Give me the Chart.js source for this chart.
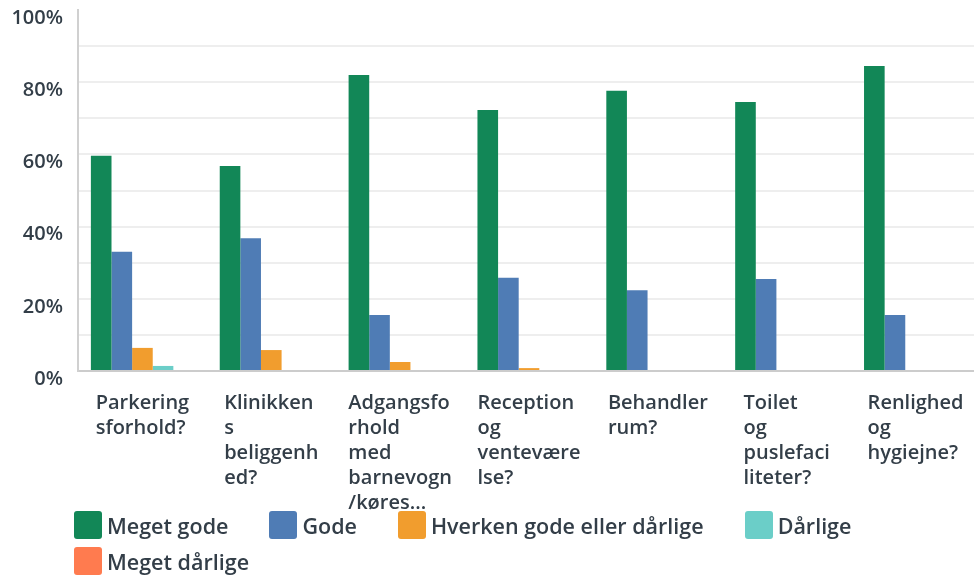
<!DOCTYPE html>
<html>
<head>
<meta charset="utf-8">
<script src="https://cdn.jsdelivr.net/npm/chart.js@4/dist/chart.umd.min.js"></script>
<style>
    body { margin: 0; background: #fff; overflow: hidden; }
    #wrap { position: relative; width: 980px; height: 515px; }
    #legend {
        position: absolute; left: 74px; top: 511px; width: 900px;
        display: flex; flex-wrap: wrap; row-gap: 8px;
        font-family: "Open Sans", sans-serif; font-weight: 600; font-size: 21.5px; color: #333e48;
    }
    .item { display: flex; align-items: center; margin-right: 41px; height: 28px; background: #fff; }
    .box { width: 28px; height: 28px; border-radius: 3px; margin-right: 5px; }
</style>
</head>
<body>
<div id="wrap"><canvas id="chart"></canvas></div>
<div id="legend"></div>
<script>
// Category labels, already broken into lines like the survey tool does
const categories = [
    ['Parkering', 'sforhold?'],
    ['Klinikken', 's', 'beliggenh', 'ed?'],
    ['Adgangsfo', 'rhold', 'med', 'barnevogn', '/køres...'],
    ['Reception', 'og', 'ventevære', 'lse?'],
    ['Behandler', 'rum?'],
    ['Toilet', 'og', 'puslefaci', 'liteter?'],
    ['Renlighed', 'og', 'hygiejne?']
];

const seriesNames = ['Meget gode', 'Gode', 'Hverken gode eller dårlige', 'Dårlige', 'Meget dårlige'];
const seriesColors = ['#128757', '#4f7cb5', '#f19d2e', '#6bcec8', '#ff7b4f'];

const megetGode = [59.6, 56.8, 82.0, 72.3, 77.6, 74.5, 84.5];
const gode = [33.0, 36.8, 15.5, 25.8, 22.4, 25.5, 15.5];
const hverken = [6.4, 5.8, 2.5, 0.8, 0, 0, 0];
const daarlige = [1.4, 0, 0, 0, 0, 0, 0];
const megetDaarlige = [0, 0, 0, 0, 0, 0, 0];

const yTicks = [0, 20, 40, 60, 80, 100];

const textColor = '#333e48';
const fontFamily = '"Open Sans", sans-serif';

// Draws the x labels as a centred block with left-aligned lines
const blockLabels = {
    id: 'blockLabels',
    afterDraw(chart) {
        const ctx = chart.ctx;
        const xScale = chart.scales.x;
        const top = chart.chartArea.bottom;
        ctx.save();
        ctx.font = '600 20px ' + fontFamily;
        ctx.fillStyle = textColor;
        ctx.textAlign = 'left';
        ctx.textBaseline = 'middle';
        categories.forEach((lines, i) => {
            const cx = xScale.getPixelForValue(i);
            const w = Math.max(...lines.map(l => ctx.measureText(l).width));
            lines.forEach((line, k) => {
                ctx.fillText(line, cx - w / 2, top + 32 + k * 25);
            });
        });
        ctx.restore();
    }
};

const allSeries = [megetGode, gode, hverken, daarlige, megetDaarlige];

const chart = new Chart(document.getElementById('chart'), {
    type: 'bar',
    data: {
        labels: categories.map(c => c.join(' ')),
        datasets: allSeries.map((data, i) => ({
            label: seriesNames[i],
            data: data,
            backgroundColor: seriesColors[i],
            borderWidth: 0,
            categoryPercentage: 0.8,
            barPercentage: 1
        }))
    },
    options: {
        responsive: true,
        maintainAspectRatio: false,
        animation: false,
        layout: { padding: { top: 10, left: 0, right: 0, bottom: 0 } },
        plugins: {
            legend: { display: false },
            tooltip: { enabled: false }
        },
        scales: {
            x: {
                ticks: { display: false },
                grid: { display: false },
                border: { color: '#cccccc', width: 2 },
                afterFit(scale) { scale.height = 144; }
            },
            y: {
                min: 0,
                max: 100,
                ticks: {
                    stepSize: 10,
                    padding: 15,
                    labelOffset: 8,
                    color: textColor,
                    font: { family: fontFamily, size: 20, weight: '600', lineHeight: 1 },
                    callback: v => yTicks.includes(v) ? v + '%' : ''
                },
                grid: {
                    drawTicks: false,
                    lineWidth: 2,
                    color: c => (c.tick && (c.tick.value === 100 || c.tick.value === 0)) ? 'rgba(0,0,0,0)' : '#eeeeee'
                },
                border: { color: '#d0d0d0', width: 2 },
                afterFit(scale) {
                    scale.width = 78;
                    scale.paddingTop = 0;
                    scale.paddingBottom = 0;
                }
            }
        }
    },
    plugins: [blockLabels]
});

// HTML legend built from the datasets
const legendEl = document.getElementById('legend');
chart.data.datasets.forEach(ds => {
    const item = document.createElement('div');
    item.className = 'item';
    const box = document.createElement('span');
    box.className = 'box';
    box.style.background = ds.backgroundColor;
    const label = document.createElement('span');
    label.textContent = ds.label;
    item.appendChild(box);
    item.appendChild(label);
    legendEl.appendChild(item);
});
</script>
</body>
</html>
